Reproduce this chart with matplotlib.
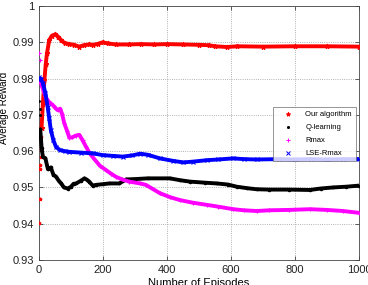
import matplotlib
matplotlib.use("Agg")
import matplotlib.pyplot as plt
from matplotlib.lines import Line2D

plt.rcParams['font.family'] = ['Liberation Sans', 'DejaVu Sans']

# early isolated points (running average of the first few episodes)
ours_start_x = [1, 2, 3, 4, 5, 6, 7]
ours_start_y = [0.9402, 0.9468, 0.9552, 0.9563, 0.9585, 0.9604, 0.9640]
ours_x = [8, 12, 17, 21, 25, 32, 40, 51, 60, 70, 80, 95, 110, 126, 140, 156, 170,
          185, 199, 215, 240, 280, 320, 360, 400, 450, 500, 530, 550, 587, 620,
          700, 800, 900, 1000]
ours_y = [0.9664, 0.9730, 0.9796, 0.9840, 0.9870, 0.9906, 0.9918, 0.9922, 0.9915,
          0.9905, 0.9898, 0.9895, 0.9893, 0.9888, 0.9892, 0.9894, 0.9893, 0.9896,
          0.9900, 0.9897, 0.9894, 0.9894, 0.9895, 0.9894, 0.9895, 0.9894, 0.9893,
          0.9892, 0.9889, 0.9887, 0.9889, 0.9888, 0.9889, 0.9889, 0.9888]

q_start_x = [1, 2, 3]
q_start_y = [0.9737, 0.9715, 0.9700]
q_x = [4, 8, 12, 20, 28, 37, 45, 53, 62, 69, 78, 90, 100, 108, 116, 130, 142, 150,
       157, 168, 178, 200, 220, 251, 272, 300, 340, 409, 440, 472, 520, 555, 590,
       618, 650, 680, 720, 780, 847, 880, 920, 960, 1000]
q_y = [0.9660, 0.9610, 0.9585, 0.9580, 0.9550, 0.9555, 0.9535, 0.9530, 0.9518,
       0.9511, 0.9500, 0.9497, 0.9502, 0.9510, 0.9511, 0.9518, 0.9525, 0.9521,
       0.9516, 0.9505, 0.9507, 0.9509, 0.9511, 0.9511, 0.9522, 0.9523, 0.9525,
       0.9525, 0.9520, 0.9516, 0.9513, 0.9511, 0.9508, 0.9502, 0.9498, 0.9495,
       0.9494, 0.9494, 0.9493, 0.9497, 0.9500, 0.9502, 0.9505]

rmax_start_x = [1, 2]
rmax_start_y = [0.9870, 0.9850]
rmax_x = [5, 10, 22, 32, 43, 52, 58, 66, 72, 79, 88, 95, 104, 115, 126, 136, 147,
          160, 173, 190, 209, 225, 241, 260, 282, 316, 334, 378, 410, 441, 480,
          524, 560, 607, 640, 680, 720, 780, 847, 900, 950, 1000]
rmax_y = [0.9790, 0.9777, 0.9746, 0.9735, 0.9727, 0.9718, 0.9713, 0.9717, 0.9703,
          0.9677, 0.9655, 0.9637, 0.9638, 0.9643, 0.9645, 0.9630, 0.9612, 0.9592,
          0.9578, 0.9560, 0.9548, 0.9538, 0.9529, 0.9522, 0.9516, 0.9511, 0.9507,
          0.9484, 0.9473, 0.9465, 0.9458, 0.9452, 0.9447, 0.9440, 0.9437, 0.9435,
          0.9437, 0.9438, 0.9440, 0.9438, 0.9435, 0.9430]

lse_start_x = [1, 3]
lse_start_y = [0.9803, 0.9800]
lse_x = [5, 12, 20, 27, 32, 37, 45, 53, 65, 80, 95, 130, 168, 199, 230, 261, 290,
         316, 340, 378, 420, 451, 480, 524, 560, 607, 640, 680, 750, 800, 850, 900,
         950, 1000]
lse_y = [0.9800, 0.9788, 0.9760, 0.9722, 0.9690, 0.9658, 0.9630, 0.9612, 0.9603,
         0.9600, 0.9598, 0.9596, 0.9594, 0.9589, 0.9587, 0.9585, 0.9588, 0.9593,
         0.9590, 0.9580, 0.9573, 0.9569, 0.9571, 0.9575, 0.9577, 0.9580, 0.9578,
         0.9577, 0.9578, 0.9577, 0.9578, 0.9577, 0.9578, 0.9578]

labels = ['Our algorithm', 'Q-learning', 'Rmax', 'LSE-Rmax']
colors = ['#ff0000', '#000000', '#ff00ff', '#0000ff']
markers = ['*', '.', '+', 'x']

series = [(ours_start_x, ours_start_y, ours_x, ours_y),
          (q_start_x, q_start_y, q_x, q_y),
          (rmax_start_x, rmax_start_y, rmax_x, rmax_y),
          (lse_start_x, lse_start_y, lse_x, lse_y)]

fig = plt.figure(figsize=(3.68, 2.85), dpi=100)
ax = fig.add_axes([39 / 368, 25 / 285, 320 / 368, 254 / 285])

for (sx, sy, mx, my), c, m in zip(series, colors, markers):
    ax.plot(mx, my, color=c, lw=2.8, solid_capstyle='round', zorder=3)
    ax.plot(mx, my, ls='none', marker=m, color=c, ms=3.5, mew=0.8, zorder=3)
    ax.plot(sx, sy, ls='none', marker=m, color=c, ms=2.5, mew=0.8, zorder=3)

ax.set_xlim(0, 1000)
ax.set_ylim(0.93, 1.0)
ax.set_xticks([0, 200, 400, 600, 800, 1000])
ax.set_yticks([0.93, 0.94, 0.95, 0.96, 0.97, 0.98, 0.99, 1.0])
ax.set_yticklabels(['0.93', '0.94', '0.95', '0.96', '0.97', '0.98', '0.99', '1'])
ax.tick_params(direction='in', length=3, width=0.5, labelsize=8,
               top=True, right=True, pad=3.5, colors='#222222')
ax.grid(True, ls=':', lw=0.6, color='#999999')
for sp in ax.spines.values():
    sp.set_linewidth(0.6)
    sp.set_color('#444444')

ax.set_xlabel('Number of Episodes', fontsize=8)
ax.xaxis.set_label_coords(0.5, -0.072)
ax.set_ylabel('Average Reward', fontsize=7)
ax.yaxis.set_label_coords(-0.094, 0.6)

handles = [Line2D([], [], ls='none', marker=m, color=c, ms=3, mew=0.7)
           for c, m in zip(colors, markers)]
leg = ax.legend(handles, labels, loc='upper right', bbox_to_anchor=(0.99, 0.602),
                fontsize=5.5, frameon=True, fancybox=False, handlelength=2.9,
                handletextpad=0.9, labelspacing=0.75, borderpad=0.5,
                borderaxespad=0)
leg.get_frame().set_edgecolor('#666666')
leg.get_frame().set_linewidth(0.6)

fig.savefig('out.png', dpi=100)
